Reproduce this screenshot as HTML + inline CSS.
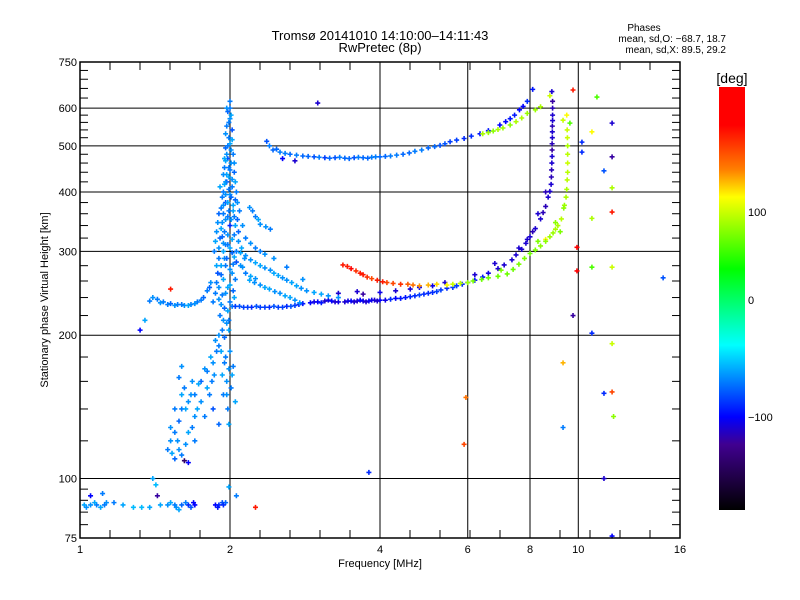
<!DOCTYPE html>
<html><head><meta charset="utf-8"><style>
body{margin:0;background:#fff;}
svg{display:block;font-family:"Liberation Sans",sans-serif;}
</style></head><body>
<svg id="chart" width="800" height="600" viewBox="0 0 800 600">
<defs>
<linearGradient id="cbg" x1="0" y1="0" x2="0" y2="1">
<stop offset="0" stop-color="#ff0000"/><stop offset="0.09" stop-color="#ff0000"/>
<stop offset="0.196" stop-color="#ff8000"/><stop offset="0.26" stop-color="#ffff00"/>
<stop offset="0.43" stop-color="#00ff00"/><stop offset="0.61" stop-color="#00ffff"/>
<stop offset="0.78" stop-color="#0000ff"/><stop offset="0.845" stop-color="#400090"/>
<stop offset="1" stop-color="#000000"/></linearGradient>
</defs>
<text x="380" y="40" font-size="13" text-anchor="middle">Tromsø 20141010 14:10:00–14:11:43</text>
<text x="380" y="52" font-size="13" text-anchor="middle">RwPretec (8p)</text>
<text x="644" y="31" font-size="10" text-anchor="middle">Phases</text>
<text x="726" y="42" font-size="10" text-anchor="end">mean, sd,O: −68.7, 18.7</text>
<text x="726" y="53" font-size="10" text-anchor="end">mean, sd,X:  89.5, 29.2</text>
<g id="grid"></g><g id="pts"></g><g id="axes"></g>
<rect x="719" y="87" width="26" height="423" fill="url(#cbg)"/>
<text x="732" y="83" font-size="14" text-anchor="middle">[deg]</text>
<g id="cbticks"></g>
<text x="380" y="567" font-size="11" text-anchor="middle">Frequency [MHz]</text>
<text transform="translate(48,300) rotate(-90)" font-size="11" text-anchor="middle">Stationary phase Virtual Height [km]</text>
</svg>
<script>
const xMajor=[1,2,4,6,8,10,16];
const yMajor=[75,100,200,300,400,500,600,750];
const cbTicks=[100,0,-100];
// points: [freq MHz, height km, phase deg]
const spike=[[2.0,620,-70],[1.98,590,-75],[2.0,570,-65],[1.97,550,-70],[2.02,540,-80],[1.99,520,-70],[2.0,505,-60],[1.96,495,-75],[2.03,480,-70],[1.98,470,-80],[2.01,460,-65],[1.95,450,-70],[2.04,440,-75],[1.99,430,-60],[1.97,420,-85],[2.02,410,-70],[1.94,400,-70],[2.0,395,-65],[2.05,385,-75],[1.96,380,-80],[1.92,370,-70],[2.03,365,-60],[1.98,355,-70],[2.07,350,-75],[1.93,345,-65],[2.0,340,-90],[1.95,330,-70],[2.04,325,-70],[1.91,320,-75],[2.08,315,-65],[1.98,310,-70],[1.94,300,-60],[2.02,298,-75],[1.9,290,-70],[2.06,285,-80],[1.96,280,-70],[2.0,275,-65],[1.92,268,-75],[2.05,262,-70],[1.88,258,-70],[1.98,252,-60],[2.03,248,-75],[1.93,243,-70],[1.9,238,-65],[2.0,235,-70],[1.95,228,-75],[1.91,220,-70],[1.97,212,-65],[1.93,205,-70],[1.95,198,-75],[1.9,190,-70],[1.96,180,-70],[1.99,170,-65],[2.02,165,-60],[1.86,300,-70],[1.88,330,-65],[1.9,360,-75],[1.93,390,-70],[1.96,420,-65],[1.99,450,-70],[2.06,300,-70],[2.1,280,-65],[2.08,330,-75],[2.06,400,-70],[1.89,270,-80],[1.87,245,-70],[1.85,235,-70],[2.04,355,-70],[1.97,480,-65],[2.0,600,-70],[1.96,310,-70],[2.01,390,-75],[1.94,360,-70],[1.92,280,-60],[2.02,230,-70],[1.99,215,-70],[1.95,175,-70],[1.97,160,-65],[1.94,150,-70],[1.98,140,-70],[2.05,145,-60],[2.03,172,-70]];
const spike2=[[1.97,600,-65],[2.01,580,-60],[1.99,560,-70],[1.96,530,-65],[2.02,515,-60],[1.98,500,-70],[2.01,490,-65],[1.96,465,-60],[2.0,445,-70],[1.97,435,-60],[2.02,425,-65],[1.95,415,-60],[1.99,405,-70],[1.96,395,-65],[2.03,375,-60],[1.94,375,-65],[1.99,365,-70],[2.05,340,-60],[1.96,350,-65],[1.92,335,-60],[1.98,325,-65],[2.02,318,-60],[1.94,312,-65],[2.0,305,-60],[1.9,305,-65],[2.04,292,-60],[1.95,290,-65],[1.88,280,-60],[2.02,270,-65],[1.94,262,-60],[1.9,252,-65],[2.0,255,-60],[1.96,245,-65],[2.04,240,-60],[1.92,232,-65],[1.98,225,-60],[1.94,215,-65],[1.99,205,-60],[1.9,200,-65],[1.92,185,-60],[2.0,185,-65],[1.93,165,-60],[1.97,150,-65],[1.99,130,-60],[2.01,155,-70],[2.09,365,-70],[2.12,340,-65],[2.11,305,-60],[2.14,290,-65],[1.87,315,-60],[1.89,345,-65],[1.91,410,-60],[1.94,435,-65],[1.95,470,-60],[2.04,460,-65],[2.05,420,-60],[2.07,380,-65],[1.98,380,-60],[2.01,350,-65],[1.97,290,-75],[2.03,282,-70],[1.93,322,-75]];
const lowTail=[[1.88,185,-70],[1.85,175,-65],[1.8,168,-70],[1.75,160,-75],[1.7,150,-70],[1.65,145,-65],[1.6,140,-70],[1.58,132,-75],[1.55,125,-70],[1.52,120,-65],[1.5,115,-70],[1.55,110,-75],[1.6,112,-70],[1.63,118,-65],[1.68,128,-70],[1.72,140,-60],[1.62,155,-70],[1.6,172,-65],[1.58,163,-70],[1.82,150,-70],[1.85,140,-80],[1.9,130,-75],[1.65,108,-100],[1.62,109,-140],[1.7,120,-70],[1.78,135,-70],[1.84,160,-70],[1.68,160,-65],[1.55,140,-70],[1.87,195,-65],[1.83,180,-60],[1.78,170,-65],[1.73,158,-60],[1.67,150,-65],[1.63,140,-60],[1.57,120,-65],[1.53,113,-60],[1.58,115,-65],[1.65,125,-60],[1.75,145,-65],[1.8,155,-60],[1.86,165,-65],[1.7,135,-65],[1.6,150,-60],[1.52,128,-65]];
const dLayer=[[1.02,88,-60],[1.05,88,-65],[1.08,88,-70],[1.1,87,-60],[1.13,89,-65],[1.17,89,-70],[1.22,88,-60],[1.28,87,-55],[1.33,87,-55],[1.38,87,-60],[1.45,88,-60],[1.5,88,-65],[1.55,88,-70],[1.6,88,-75],[1.65,88,-90],[1.7,88,-100],[1.67,87,-80],[1.58,86,-60],[1.87,88,-100],[1.9,88,-90],[1.93,89,-80],[1.96,89,-75],[1.11,93,-70],[1.05,92,-100],[1.4,100,-60],[1.42,97,-55],[1.43,92,-120],[2.25,87,150],[1.99,96,-60],[2.06,92,-70],[1.03,87,-65],[1.07,89,-60],[1.12,88,-70],[1.52,89,-60],[1.56,87,-65],[1.63,89,-70],[1.69,89,-100],[1.89,87,-95],[1.94,88,-90]];
const lowF=[[1.38,236,-70],[1.4,240,-65],[1.43,238,-70],[1.47,235,-70],[1.52,233,-75],[1.57,232,-70],[1.62,231,-65],[1.67,232,-70],[1.72,235,-70],[1.77,240,-75],[1.8,248,-70],[1.83,258,-65],[1.32,205,-100],[1.35,215,-60],[1.52,250,150],[1.45,234,-65],[1.5,232,-70],[1.55,231,-65],[1.6,232,-70],[1.65,231,-60],[1.7,233,-65],[1.75,237,-70],[1.82,252,-75]];
const oTrace=[[2.05,230,-85],[2.13,229,-85],[2.21,229,-90],[2.3,229,-85],[2.4,229,-90],[2.5,229,-85],[2.6,230,-90],[2.7,231,-85],[2.8,233,-95],[2.9,234,-100],[3.0,235,-100],[3.1,236,-110],[3.2,236,-100],[3.3,235,-105],[3.4,235,-110],[3.5,236,-100],[3.6,236,-110],[3.7,236,-105],[3.8,236,-100],[3.9,237,-110],[4.0,237,-100],[4.2,238,-90],[4.4,239,-95],[4.6,241,-90],[4.8,243,-85],[5.0,245,-90],[5.2,247,-85],[5.45,251,-90],[5.7,254,-85],[6.0,258,-90],[6.43,265,-95],[6.9,276,-110],[7.36,288,-110],[7.7,303,-110],[8.0,322,-110],[8.2,335,-110],[8.4,351,-110],[8.6,373,-115],[8.77,401,-110],[8.83,430,-115],[8.85,460,-110],[8.86,490,-120],[8.87,520,-110],[8.87,550,-115],[8.88,580,-110],[8.88,620,-120],[8.85,650,-110],[3.3,245,-110],[3.7,244,-120],[4.3,248,-110],[4.8,252,-100],[5.4,258,-110],[6.2,268,-110],[6.8,283,-110],[7.6,305,-110],[8.3,360,-110],[8.6,400,-115],[2.09,230,-80],[2.17,229,-85],[2.26,230,-80],[2.35,229,-85],[2.45,230,-80],[2.55,229,-85],[2.65,230,-80],[2.75,232,-90],[2.95,235,-105],[3.05,234,-95],[3.15,237,-105],[3.25,235,-110],[3.45,236,-105],[3.55,235,-110],[3.65,237,-100],[3.75,235,-110],[3.85,237,-105],[3.95,236,-110],[4.1,237,-105],[4.3,239,-100],[4.5,240,-95],[4.7,242,-90],[4.9,244,-90],[5.1,246,-90],[5.3,249,-85],[5.6,252,-85],[5.85,256,-90],[6.2,261,-95],[6.6,270,-105],[7.1,281,-110],[7.5,295,-110],[7.85,312,-110],[8.5,362,-115],[8.7,390,-110],[8.82,415,-110],[8.84,445,-115],[8.86,475,-110],[8.86,505,-115],[8.87,535,-110],[8.88,565,-110],[8.88,600,-115],[8.1,330,-115],[7.9,318,-110],[3.6,247,-110],[4.0,246,-105],[4.6,250,-110],[5.1,254,-105]];
const xTrace=[[3.37,281,150],[3.5,276,155],[3.65,270,150],[3.77,265,145],[3.95,261,150],[4.13,258,140],[4.4,256,145],[4.66,255,130],[5.0,255,120],[5.45,255,110],[5.8,257,95],[6.15,260,75],[6.6,264,70],[7.2,269,70],[7.6,282,75],[8.0,297,70],[8.4,308,80],[8.77,322,85],[9.0,334,90],[9.25,351,95],[9.45,390,90],[9.5,424,95],[9.52,460,100],[9.52,500,90],[9.5,540,100],[9.48,580,110],[9.2,330,75],[9.35,370,80],[8.6,318,110],[3.44,279,150],[3.58,273,145],[3.7,268,150],[3.85,263,140],[4.05,259,150],[4.25,257,140],[4.55,256,135],[4.8,254,125],[5.2,256,115],[5.6,256,100],[6.0,258,85],[6.4,262,70],[6.9,266,70],[7.4,275,70],[7.8,290,75],[8.2,302,75],[8.6,315,80],[8.9,328,85],[9.1,340,90],[9.38,375,85],[9.48,405,90],[9.52,440,95],[9.52,480,95],[9.51,520,100],[9.0,345,80],[8.3,315,75],[7.0,274,75]];
const upper=[[2.37,511,-80],[2.44,490,-75],[2.52,485,-70],[2.64,480,-75],[2.8,476,-75],[2.95,474,-80],[3.1,472,-85],[3.25,472,-80],[3.4,471,-75],[3.55,472,-80],[3.7,472,-75],[3.85,473,-70],[4.0,474,-75],[4.2,476,-70],[4.45,480,-75],[4.7,487,-70],[5.0,495,-75],[5.28,501,-80],[5.53,510,-85],[5.9,518,-90],[6.35,530,-95],[6.96,553,-100],[7.3,570,-95],[7.62,595,-100],[7.9,620,-90],[8.1,657,-95],[2.55,470,-100],[2.7,465,-110],[2.4,500,-70],[2.48,492,-75],[2.58,482,-70],[2.72,478,-70],[2.87,475,-75],[3.02,473,-70],[3.17,471,-75],[3.32,473,-70],[3.47,470,-75],[3.62,473,-70],[3.78,471,-75],[3.92,474,-70],[4.1,475,-75],[4.32,478,-70],[4.58,483,-75],[4.85,490,-70],[5.15,498,-75],[5.4,505,-80],[5.7,514,-85],[6.1,524,-90],[6.6,538,-95],[7.15,562,-100],[7.45,580,-95],[7.75,605,-100]];
const upperX=[[6.43,530,90],[6.75,537,80],[7.06,545,85],[7.5,562,90],[7.9,585,85],[8.4,604,90],[8.77,637,100],[6.6,533,85],[6.9,541,90],[7.3,553,80],[7.7,572,90],[8.2,595,85]];
const branches=[[2.19,371,-65],[2.25,355,-70],[2.3,342,-65],[2.41,334,-70],[2.1,298,-60],[2.2,288,-65],[2.3,280,-60],[2.41,274,-65],[2.5,267,-60],[2.6,261,-65],[2.72,254,-60],[2.85,248,-65],[3.05,244,-60],[3.3,240,-65],[2.19,261,-60],[2.3,255,-65],[2.4,250,-60],[2.52,245,-65],[2.64,240,-60],[2.76,234,-65],[2.15,320,-70],[2.25,305,-70],[2.35,296,-65],[2.15,270,-70],[2.25,263,-65],[2.22,365,-70],[2.28,350,-60],[2.36,338,-65],[2.15,294,-65],[2.25,284,-60],[2.35,277,-65],[2.45,270,-60],[2.55,264,-65],[2.66,258,-60],[2.78,251,-65],[2.95,246,-60],[3.15,242,-65],[2.24,258,-65],[2.35,252,-60],[2.46,247,-65],[2.58,242,-60],[2.7,237,-65],[2.2,312,-65],[2.3,300,-70],[2.45,290,-65],[2.6,278,-70],[2.8,262,-65],[2.12,278,-65],[2.2,266,-60]];
const scatter=[[3.0,615,-110],[9.76,655,150],[10.9,633,60],[9.32,566,100],[9.62,558,60],[11.69,558,-110],[10.65,535,110],[10.17,509,-90],[10.17,485,-90],[11.69,474,-120],[11.26,443,-80],[11.69,408,90],[11.69,363,150],[10.65,352,90],[9.94,306,160],[9.94,273,160],[10.65,278,60],[11.69,278,100],[14.8,264,-80],[9.76,220,-120],[10.65,202,-90],[11.69,192,100],[9.32,175,120],[11.26,151,-90],[11.69,152,140],[11.77,135,80],[9.32,128,-70],[11.26,100,-110],[11.69,75.7,-100],[5.95,148,130],[5.9,118,140],[3.8,103,-90]];
const allSets=[spike,spike2,lowTail,dLayer,lowF,oTrace,xTrace,upper,upperX,branches,scatter];

const L=80,R=680,T=62,B=538;
const fx=f=>L+(R-L)*Math.log(f)/Math.log(16);
const hy=h=>B-(B-T)*Math.log10(h/75);
const NS='http://www.w3.org/2000/svg';
function mk(tag,attrs,parent){const e=document.createElementNS(NS,tag);for(const k in attrs)e.setAttribute(k,attrs[k]);parent.appendChild(e);return e;}
const grid=document.getElementById('grid'),axes=document.getElementById('axes'),pts=document.getElementById('pts');
const pPh=[180,100,0,-100,-180],pY=[87,212,300,417,510];
function phY(p){p=Math.max(-180,Math.min(180,p));for(let i=0;i<4;i++){if(p<=pPh[i]&&p>=pPh[i+1]){const t=(pPh[i]-p)/(pPh[i]-pPh[i+1]);return pY[i]+t*(pY[i+1]-pY[i]);}}return 300;}
const cs=[[0,[255,0,0]],[0.09,[255,0,0]],[0.196,[255,128,0]],[0.26,[255,255,0]],[0.43,[0,255,0]],[0.61,[0,255,255]],[0.78,[0,0,255]],[0.845,[64,0,144]],[1,[0,0,0]]];
function col(p){const t=(phY(p)-87)/423;for(let i=0;i<cs.length-1;i++){if(t>=cs[i][0]&&t<=cs[i+1][0]){const u=(t-cs[i][0])/(cs[i+1][0]-cs[i][0]||1);const a=cs[i][1],b=cs[i+1][1];return 'rgb('+a.map((v,j)=>Math.round(v+u*(b[j]-v))).join(',')+')';}}return '#000';}
xMajor.slice(1,-1).forEach(v=>{
const g=mk('line',{x1:fx(v),x2:fx(v),y1:T,y2:B,stroke:'#000','stroke-width':1},grid);


});
yMajor.slice(1,-1).forEach(v=>{
const g=mk('line',{x1:L,x2:R,y1:hy(v),y2:hy(v),stroke:'#000','stroke-width':1},grid);


});
allSets.forEach(set=>set.forEach(d=>{
const x=fx(d[0]),y=hy(d[1]);
const p=mk('path',{d:`M${x-2.5} ${y}h5M${x} ${y-2.5}v5`,stroke:col(d[2]),'stroke-width':1.6},pts);


}));
const fr=mk('rect',{x:L,y:T,width:R-L,height:B-T,fill:'none',stroke:'#000','stroke-width':1.5},axes);


for(let i=1;i<20;i++){const v=Math.pow(2,i*0.2);const x=fx(v);
[[B,B-8],[T,T+8]].forEach(s=>{const t=mk('line',{x1:x,x2:x,y1:s[0],y2:s[1],stroke:'#000'},axes);

});}
for(let i=0;i<yMajor.length-1;i++){const a=yMajor[i],b=yMajor[i+1];for(let k=1;k<5;k++){const v=a+(b-a)*k/5;const y=hy(v);
[[L,L+8],[R,R-8]].forEach(s=>{const t=mk('line',{x1:s[0],x2:s[1],y1:y,y2:y,stroke:'#000'},axes);

});}}
xMajor.forEach(v=>{const t=mk('text',{x:fx(v),y:553,'font-size':11,'text-anchor':'middle'},axes);t.textContent=v;

});
yMajor.forEach(v=>{const t=mk('text',{x:L-3,y:hy(v)+4,'font-size':11,'text-anchor':'end'},axes);t.textContent=v;

});
const cbt=document.getElementById('cbticks');
cbTicks.forEach(v=>{const t=mk('text',{x:748,y:phY(v)+4,'font-size':11},cbt);t.textContent=v<0?'−'+(-v):v;

});
</script>
</body></html>
